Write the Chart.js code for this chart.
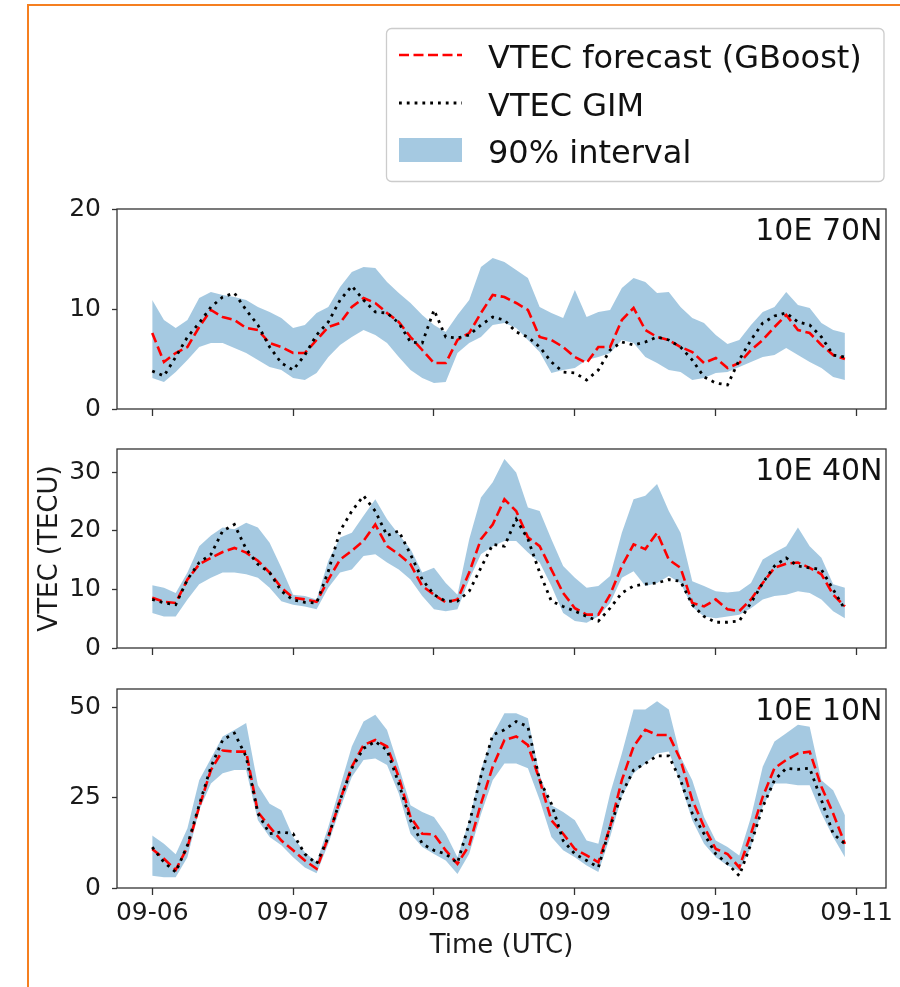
<!DOCTYPE html>
<html>
<head>
<meta charset="utf-8">
<title>VTEC forecast vs GIM</title>
<script src="https://cdn.jsdelivr.net/npm/chart.js@4.4.1/dist/chart.umd.min.js"></script>
<style>
  html, body { margin: 0; padding: 0; background: #ffffff; }
  #page { position: relative; width: 900px; height: 987px; overflow: hidden; }
  #frame { position: absolute; left: 27px; top: 4px; right: -10px; bottom: -10px;
           border-left: 2px solid #f57f20; border-top: 2px solid #f57f20; }
  canvas { position: absolute; left: 0; }
</style>
</head>
<body>
<div id="page">
  <div id="frame"></div>
  <canvas id="p70" width="900" height="440" style="top:0px"></canvas>
  <canvas id="p40" width="900" height="260" style="top:419px"></canvas>
  <canvas id="p10" width="900" height="328" style="top:659px"></canvas>
</div>
<script>
// ---- time axis: hours after 2019-09-06 00:00 UTC, 2-hourly samples ----
const hours = [];
for (let h = 0; h <= 118; h += 2) hours.push(h);

const dayTicks  = [0, 24, 48, 72, 96, 120];
const dayLabels = ['09-06', '09-07', '09-08', '09-09', '09-10', '09-11'];

const seriesLabels = ['VTEC forecast (GBoost)', 'VTEC GIM', '90% interval'];
const panelLabels  = ['10E 70N', '10E 40N', '10E 10N'];

// ---- 10E 70N ----
const forecast70N = [7.6, 4.7, 5.6, 6.2, 8.2, 9.9, 9.2, 8.9, 8.1, 7.9,
  6.6, 6.2, 5.6, 5.6, 6.9, 8.2, 8.6, 10.2, 11.1, 10.6,
  9.6, 8.7, 7.2, 5.9, 4.6, 4.6, 6.9, 7.6, 9.6, 11.4,
  11.2, 10.6, 9.9, 7.2, 6.9, 6.2, 5.2, 4.6, 6.2, 6.2,
  8.9, 10.1, 7.9, 7.2, 6.9, 6.2, 5.7, 4.6, 5.1, 4.1,
  4.6, 5.9, 6.9, 8.2, 9.4, 7.9, 7.6, 6.4, 5.4, 5.0];
const gim70N = [3.8, 3.3, 5.2, 7.2, 8.6, 10.2, 11.2, 11.6, 9.9, 8.4,
  6.2, 4.6, 3.9, 5.4, 7.4, 8.7, 10.9, 12.3, 10.9, 9.7,
  9.6, 8.6, 6.7, 6.6, 9.9, 7.2, 7.1, 7.4, 8.4, 9.2,
  8.9, 7.7, 7.2, 6.2, 4.7, 3.7, 3.6, 2.9, 3.9, 5.9,
  6.7, 6.4, 6.7, 7.2, 6.9, 6.2, 4.9, 3.2, 2.6, 2.4,
  4.9, 6.9, 8.6, 9.3, 9.6, 8.7, 8.4, 7.2, 5.4, 5.2];
const upper70N = [10.9, 8.9, 8.1, 8.9, 11.1, 11.7, 11.4, 11.2, 10.9, 10.2,
  9.7, 9.1, 8.1, 8.4, 9.6, 10.2, 12.2, 13.7, 14.2, 14.1,
  12.7, 11.6, 10.6, 9.4, 8.4, 7.7, 9.4, 10.9, 14.2, 15.1,
  14.7, 13.9, 13.1, 10.2, 9.6, 9.1, 11.9, 9.2, 9.7, 9.9,
  12.1, 13.1, 12.7, 11.6, 11.7, 10.2, 9.1, 8.6, 7.4, 6.5,
  6.9, 8.4, 9.7, 10.2, 11.7, 10.4, 10.1, 8.6, 7.9, 7.6];
const lower70N = [3.1, 2.7, 3.7, 4.9, 6.2, 6.6, 6.6, 6.1, 5.6, 4.9,
  4.2, 3.9, 3.1, 2.9, 3.6, 5.2, 6.4, 7.2, 7.9, 7.4,
  6.6, 5.2, 3.9, 3.1, 2.6, 2.7, 5.6, 6.6, 7.2, 8.4,
  8.6, 8.1, 6.9, 5.7, 3.6, 3.9, 4.1, 4.9, 5.2, 5.6,
  6.9, 6.6, 5.2, 4.6, 3.9, 3.7, 2.9, 3.1, 3.6, 3.7,
  4.2, 4.7, 5.2, 5.4, 6.1, 5.4, 4.7, 4.1, 3.2, 2.9];

// ---- 10E 40N ----
const forecast40N = [8.6, 7.9, 7.7, 11.7, 14.3, 15.4, 16.4, 17.1, 16.3, 14.9,
  12.9, 10.3, 8.6, 8.3, 7.9, 11.7, 15.1, 16.6, 18.3, 21.1,
  17.4, 16.0, 14.3, 10.6, 9.1, 7.8, 8.3, 12.9, 18.6, 21.1,
  25.4, 23.4, 18.9, 17.4, 13.4, 9.4, 6.8, 5.7, 5.7, 9.1,
  14.0, 17.7, 16.9, 19.7, 15.1, 13.7, 7.7, 7.1, 8.3, 6.6,
  6.3, 8.3, 11.1, 13.7, 14.4, 14.6, 13.7, 12.6, 9.1, 7.1];
const gim40N = [8.3, 7.7, 7.4, 11.7, 14.6, 16.0, 20.0, 21.1, 16.9, 14.3,
  12.9, 9.7, 8.2, 7.8, 7.7, 13.1, 20.0, 23.4, 26.0, 23.4,
  19.2, 20.0, 16.0, 11.7, 9.1, 8.0, 8.0, 9.7, 13.7, 17.7,
  17.4, 22.0, 18.6, 12.9, 8.0, 7.1, 6.3, 5.4, 4.6, 6.8,
  9.4, 10.6, 10.9, 11.1, 11.7, 11.4, 7.4, 5.4, 4.4, 4.4,
  4.6, 7.7, 11.1, 14.0, 15.4, 14.0, 13.7, 13.4, 10.0, 6.6];
const upper40N = [10.7, 10.3, 9.4, 12.9, 17.4, 19.2, 20.6, 20.3, 21.4, 20.6,
  18.0, 13.7, 9.1, 8.9, 8.3, 14.9, 18.9, 19.7, 22.6, 25.4,
  22.0, 19.4, 16.9, 12.9, 13.7, 11.1, 9.1, 18.6, 25.7, 28.3,
  32.3, 30.0, 24.0, 23.4, 18.6, 14.0, 12.0, 10.3, 10.6, 12.3,
  19.7, 25.4, 26.0, 28.0, 23.4, 19.7, 11.4, 10.6, 9.7, 9.5,
  9.7, 11.1, 15.1, 16.3, 17.4, 20.6, 17.4, 15.4, 10.9, 10.3];
const lower40N = [6.0, 5.4, 5.4, 8.3, 10.9, 12.0, 12.9, 12.9, 12.6, 12.0,
  10.3, 8.0, 7.4, 7.1, 6.6, 10.3, 12.9, 13.4, 15.7, 16.0,
  14.6, 13.4, 11.7, 8.9, 6.6, 6.3, 6.6, 11.7, 16.0, 17.4,
  18.3, 18.3, 16.3, 14.6, 10.6, 6.0, 4.6, 4.3, 5.4, 7.7,
  12.0, 13.1, 10.6, 11.1, 12.3, 11.1, 7.0, 5.4, 5.1, 5.4,
  5.7, 6.8, 8.3, 8.9, 9.1, 9.7, 9.4, 8.3, 6.3, 5.1];

// ---- 10E 10N ----
const forecast10N = [10.8, 8.1, 5.0, 11.3, 22.4, 32.6, 38.0, 37.7, 37.7, 21.0,
  16.9, 13.1, 10.4, 7.6, 5.3, 14.1, 24.3, 33.5, 39.5, 40.9,
  39.1, 30.7, 19.6, 15.0, 14.8, 10.4, 6.7, 11.8, 23.3, 33.5,
  40.9, 41.9, 39.5, 29.8, 18.7, 15.0, 10.8, 9.0, 7.1, 16.9,
  29.8, 39.1, 43.7, 42.3, 42.3, 35.4, 24.3, 16.9, 10.8, 9.4,
  5.7, 15.0, 25.2, 33.1, 35.4, 37.2, 37.7, 28.0, 20.6, 12.2];
const gim10N = [11.3, 7.1, 4.4, 11.8, 22.9, 33.5, 40.9, 42.8, 36.3, 20.6,
  15.0, 15.5, 15.0, 9.4, 6.7, 14.1, 24.3, 33.1, 38.6, 40.5,
  38.1, 28.9, 18.7, 12.2, 10.4, 9.4, 6.9, 17.8, 31.0, 42.3,
  43.7, 46.0, 44.6, 29.8, 23.3, 13.1, 9.4, 7.6, 5.7, 16.9,
  26.1, 32.6, 34.4, 36.5, 36.5, 29.8, 20.6, 15.0, 9.4, 6.7,
  3.4, 12.2, 22.4, 29.8, 33.1, 32.8, 33.1, 24.3, 15.0, 12.2];
const upper10N = [14.5, 12.2, 9.3, 16.5, 29.8, 35.8, 41.9, 43.7, 45.6, 28.4,
  23.3, 21.5, 14.1, 9.9, 7.1, 16.9, 28.0, 39.1, 46.0, 47.9,
  43.7, 33.5, 22.9, 21.0, 19.6, 15.0, 8.5, 18.7, 32.6, 42.3,
  48.3, 48.3, 46.9, 31.2, 22.9, 21.0, 18.7, 13.1, 12.2, 26.1,
  37.2, 49.3, 49.3, 51.6, 49.3, 36.3, 29.8, 19.6, 13.1, 11.3,
  9.0, 19.6, 33.5, 40.5, 42.8, 45.1, 44.6, 29.8, 27.0, 20.1];
const lower10N = [3.4, 3.0, 3.0, 8.5, 21.5, 28.9, 31.7, 32.6, 32.6, 18.7,
  14.1, 11.8, 8.5, 5.7, 4.1, 12.2, 21.9, 30.7, 35.4, 35.8,
  34.0, 26.1, 15.0, 11.3, 9.4, 7.6, 3.9, 9.5, 20.4, 29.8,
  34.4, 34.4, 33.1, 24.3, 14.1, 10.4, 8.5, 6.2, 4.4, 14.1,
  25.2, 31.7, 34.4, 37.2, 37.7, 28.9, 18.7, 12.2, 8.5, 6.2,
  4.8, 11.3, 22.4, 28.9, 28.9, 28.4, 28.4, 20.6, 14.1, 8.5];

// ---- styles ----
const FONT = 'DejaVu Sans';
const INK = '#1a1a1a';
const SPINE = '#333333';
const BAND = 'rgba(31,119,180,0.4)';
const FORECAST_DASH = [10, 4.5];
const GIM_DASH = [2.8, 5];

Chart.defaults.font.family = FONT;
Chart.defaults.color = INK;

const toPoints = vals => vals.map((v, i) => ({ x: hours[i], y: v }));

// Axes box (all four spines) plus the station label in the upper right corner
const panelFrame = {
  id: 'panelFrame',
  afterDraw(chart, args, opts) {
    const { ctx, chartArea: a } = chart;
    ctx.save();
    ctx.strokeStyle = SPINE;
    ctx.lineWidth = 1.3;
    ctx.strokeRect(a.left, a.top, a.right - a.left, a.bottom - a.top);
    ctx.font = '30px "' + FONT + '"';
    ctx.fillStyle = '#111111';
    ctx.textAlign = 'right';
    ctx.textBaseline = 'alphabetic';
    ctx.fillText(opts.label, a.right - 3.5, a.top + 31);
    ctx.restore();
  }
};

// Shared legend, boxed, above the first panel
const legendBox = {
  id: 'legendBox',
  afterDraw(chart, args, opts) {
    if (!opts.show) return;
    const ctx = chart.ctx;
    const right = chart.chartArea.right - 2;
    const left = 386.5, top = 28.5, bottom = 181.5, r = 5;
    ctx.save();
    ctx.beginPath();
    ctx.moveTo(left + r, top);
    ctx.lineTo(right - r, top);
    ctx.arcTo(right, top, right, top + r, r);
    ctx.lineTo(right, bottom - r);
    ctx.arcTo(right, bottom, right - r, bottom, r);
    ctx.lineTo(left + r, bottom);
    ctx.arcTo(left, bottom, left, bottom - r, r);
    ctx.lineTo(left, top + r);
    ctx.arcTo(left, top, left + r, top, r);
    ctx.closePath();
    ctx.fillStyle = 'rgba(255,255,255,0.8)';
    ctx.fill();
    ctx.strokeStyle = '#cccccc';
    ctx.lineWidth = 1.3;
    ctx.stroke();

    const hx0 = 399, hx1 = 462, tx = 488;
    const rows = [55, 103, 150];

    // forecast handle
    ctx.beginPath();
    ctx.setLineDash(FORECAST_DASH);
    ctx.strokeStyle = '#ff0000';
    ctx.lineWidth = 2.6;
    ctx.moveTo(hx0, rows[0]); ctx.lineTo(hx1, rows[0]);
    ctx.stroke();
    // GIM handle
    ctx.beginPath();
    ctx.setLineDash(GIM_DASH);
    ctx.strokeStyle = '#000000';
    ctx.lineWidth = 2.8;
    ctx.moveTo(hx0, rows[1]); ctx.lineTo(hx1, rows[1]);
    ctx.stroke();
    ctx.setLineDash([]);
    // interval patch
    ctx.fillStyle = BAND;
    ctx.fillRect(hx0, rows[2] - 12, hx1 - hx0, 24);

    ctx.font = '32px "' + FONT + '"';
    ctx.fillStyle = '#111111';
    ctx.textAlign = 'left';
    ctx.textBaseline = 'alphabetic';
    seriesLabels.forEach((t, i) => ctx.fillText(t, tx, rows[i] + 12.5));
    ctx.restore();
  }
};

function makePanel(id, cfg) {
  const datasets = [
    { label: seriesLabels[2] + ' (low)', data: toPoints(cfg.lower), fill: false,
      borderColor: 'rgba(0,0,0,0)', borderWidth: 0, pointRadius: 0, order: 3 },
    { label: seriesLabels[2], data: toPoints(cfg.upper), fill: '-1', backgroundColor: BAND,
      borderColor: 'rgba(0,0,0,0)', borderWidth: 0, pointRadius: 0, order: 2 },
    { label: seriesLabels[0], data: toPoints(cfg.forecast), fill: false,
      borderColor: '#ff0000', borderWidth: 2.6, borderDash: FORECAST_DASH,
      pointRadius: 0, tension: 0, order: 1 },
    { label: seriesLabels[1], data: toPoints(cfg.gim), fill: false,
      borderColor: '#000000', borderWidth: 2.8, borderDash: GIM_DASH, borderCapStyle: 'butt',
      pointRadius: 0, tension: 0, order: 0 }
  ];

  return new Chart(document.getElementById(id), {
    type: 'line',
    data: { datasets },
    plugins: [panelFrame, legendBox],
    options: {
      responsive: false,
      animation: false,
      devicePixelRatio: 1,
      events: [],
      layout: { padding: { left: 0, right: 14, top: cfg.padTop, bottom: 0 } },
      plugins: {
        legend: { display: false },
        tooltip: { enabled: false },
        panelFrame: { label: cfg.label },
        legendBox: { show: !!cfg.legend }
      },
      scales: {
        x: {
          type: 'linear',
          min: -6,
          max: 125,
          afterBuildTicks: s => { s.ticks = dayTicks.map(v => ({ value: v })); },
          afterFit: s => { s.height = cfg.xHeight; },
          ticks: {
            display: !!cfg.xLabels,
            autoSkip: false,
            maxRotation: 0,
            padding: 3,
            color: INK,
            font: { family: FONT, size: 25 },
            callback: (v, i) => dayLabels[i]
          },
          grid: { display: true, drawOnChartArea: false, drawTicks: true,
                  tickLength: 7, tickColor: SPINE, tickWidth: 1.3 },
          border: { display: false },
          title: {
            display: !!cfg.xLabels,
            text: 'Time (UTC)',
            color: INK,
            font: { family: FONT, size: 26 },
            padding: { top: 0, bottom: 25 }
          }
        },
        y: {
          min: 0,
          max: cfg.yMax,
          afterBuildTicks: s => { s.ticks = cfg.yTicks.map(v => ({ value: v })); },
          afterFit: s => { s.width = 117; },
          ticks: { padding: 11, color: INK, font: { family: FONT, size: 25 } },
          grid: { display: true, drawOnChartArea: false, drawTicks: true,
                  tickLength: 5, tickColor: SPINE, tickWidth: 1.3 },
          border: { display: false },
          title: {
            display: !!cfg.yTitle,
            text: 'VTEC (TECU)',
            color: INK,
            font: { family: FONT, size: 26 },
            padding: { top: 35, bottom: 0 }
          }
        }
      }
    }
  });
}

// Each canvas keeps at least ~30px of padding above and below its plot box,
// so the tick-label allowance never moves the box itself.
makePanel('p70', {
  label: panelLabels[0], forecast: forecast70N, gim: gim70N, upper: upper70N, lower: lower70N,
  yMax: 20, yTicks: [0, 10, 20], padTop: 209, xHeight: 31, legend: true
});
makePanel('p40', {
  label: panelLabels[1], forecast: forecast40N, gim: gim40N, upper: upper40N, lower: lower40N,
  yMax: 34, yTicks: [0, 10, 20, 30], padTop: 30, xHeight: 31, yTitle: true
});
makePanel('p10', {
  label: panelLabels[2], forecast: forecast10N, gim: gim10N, upper: upper10N, lower: lower10N,
  yMax: 55, yTicks: [0, 25, 50], padTop: 30, xHeight: 99, xLabels: true
});
</script>
</body>
</html>
